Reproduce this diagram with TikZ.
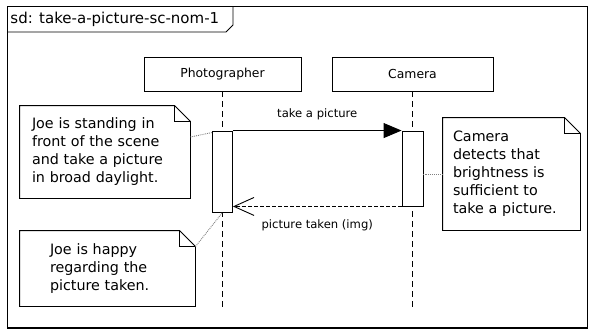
\documentclass[tikz,border=0pt]{standalone}
\usepackage{fontspec}
\setmainfont{DejaVu Sans}
\usetikzlibrary{positioning,calc,arrows.meta}

\begin{document}
\begin{tikzpicture}[x=1pt, y=-1pt, line width=0.9pt]
	\useasboundingbox (0,0) rectangle (589,333);
	\begin{scope}
		\tikzstyle{every node}=[inner sep=0pt]
		\tikzstyle{lifebox}=[draw, minimum height=34pt, font=\fontsize{12.4}{14}\selectfont]
		\tikzstyle{act}=[draw, fill=white, minimum width=20pt]
		\tikzstyle{note}=[align=left, font=\fontsize{14.3}{18}\selectfont]
		\tikzstyle{msg}=[font=\fontsize{11.6}{14}\selectfont]
		\tikzstyle{life}=[dash pattern=on 6pt off 4pt]
		\tikzstyle{link}=[densely dotted, gray]

		\draw (7,6) rectangle (587,328);
		\draw [line width=2.5pt] (7,328) -- (587,328);
		\node (title) [anchor=west, font=\fontsize{15}{17}\selectfont] at (10,19) {sd: take-a-picture-sc-nom-1};
		\draw (7,32) -- (226,32) -- (233,25) -- (233,6);

		\node (photo) [lifebox, minimum width=157pt] at (222.5,74) {Photographer};
		\node (camera) [lifebox, minimum width=161pt] at (412.5,74) {Camera};
		\coordinate (photoEnd) at (222.5,307);
		\coordinate (cameraEnd) at (412.5,307);
		\draw [life] (photo.south) -- (photoEnd);
		\draw [life] (camera.south) -- (cameraEnd);

		\node (actP) [act, minimum height=81pt] at (222.5,171.5) {};
		\node (actC) [act, minimum width=21pt, minimum height=75pt] at (412.5,168.5) {};

		\node (nShoot) [note, text width=146pt, inner xsep=12pt, minimum height=92pt] at (105,152) {Joe is standing in\\front of the scene\\and take a picture\\in broad daylight.};
		\node (nCam) [note, text width=117pt, inner xsep=10pt, minimum height=112pt] at (511.5,174) {Camera\\detects that\\brightness is\\sufficient to\\take a picture.};
		\node (nHappy) [note, text width=115pt, inner xsep=30pt, minimum height=75pt] at (107.5,268.5) {Joe is happy\\regarding the\\picture taken.};
		\foreach \n in {nShoot,nCam,nHappy}
		{
			\draw (\n.south west) -- (\n.north west) -- ([xshift=-16pt]\n.north east) -- ([yshift=-16pt]\n.north east) -- (\n.south east) -- cycle;
			\draw ([xshift=-16pt]\n.north east) |- ([yshift=-16pt]\n.north east);
		}

		\draw [-{Triangle[length=18pt,width=15pt]}] (actP.north east) -- node [msg, above=10pt] {take a picture} (actC.north west);
		\draw [dash pattern=on 4pt off 2pt, -{Straight Barb[length=20pt,width=18pt]}] (actC.south west) -- node [msg, below=13pt] {picture taken (img)} (actC.south west -| actP.east);

		\draw [link] ([yshift=15pt]nShoot.east) -- ([yshift=-2pt]actP.north west);
		\draw [link] (nCam.west) -- (nCam.west -| actC.east);
		\draw [link] ([yshift=-16pt]nHappy.north east) -- (actP.south);
	\end{scope}
\end{tikzpicture}
\end{document}
